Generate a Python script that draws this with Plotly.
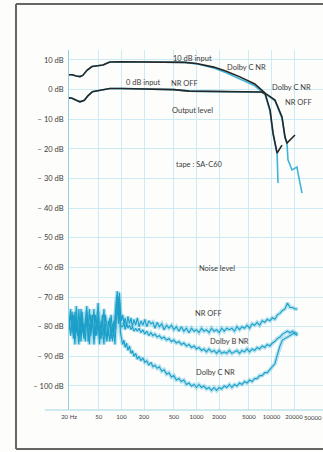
import math
import plotly.graph_objects as go

# ---- output level curves (Hz, dB) ----
out10_hz = [20, 22, 25, 28, 30.5, 35, 40.5, 52, 57, 63, 70, 100, 200, 400, 700, 1000,
            1700, 2500, 3800, 6000, 8200, 9600, 10500, 11900, 12150, 13850]
out10_off_db = [5.0, 5.0, 4.6, 4.4, 4.8, 6.6, 7.8, 8.3, 8.3, 8.8, 9.3, 9.4, 9.4, 9.3, 9.2, 8.8,
                7.6, 6.2, 4.3, 1.9, -1.1, -6.9, -14.6, -21.4, -21.0, -18.7]

out10_c_hz = [20, 22, 25, 28, 30.5, 35, 40.5, 52, 57, 63, 70, 100, 200, 400, 700, 1000,
              1700, 2500, 3800, 6000, 8200, 9600, 10500, 11900, 12240]
out10_c_db = [5.0, 5.0, 4.6, 4.4, 4.8, 6.6, 7.8, 8.3, 8.3, 8.8, 9.3, 9.4, 9.4, 9.3, 9.2, 8.7,
              7.3, 5.7, 3.7, 1.3, -1.6, -7.4, -15.0, -21.6, -31.5]

out0_hz = [20, 22, 25, 28, 32, 36, 41, 50, 57, 70, 100, 200, 500, 800, 2000, 4000,
           7400, 8700, 11160, 13840, 15170, 16140, 20600]
out0_off_db = [-2.8, -2.9, -3.6, -4.1, -3.6, -2.0, -0.7, -0.3, -0.1, 0.4, 0.4, 0.3, 0.0, -0.5, -0.7, -0.8,
               -0.8, -1.6, -3.5, -9.2, -16.0, -18.0, -15.3]

out0_c_hz = [20, 22, 25, 28, 32, 36, 41, 50, 57, 70, 100, 200, 500, 800, 2000, 4000,
             7400, 8700, 11160, 13840, 15170, 16140, 16630, 18800, 21930, 22590, 25580]
out0_c_db = [-2.8, -2.9, -3.6, -4.1, -3.6, -2.0, -0.7, -0.3, -0.1, 0.4, 0.4, 0.3, 0.0, -0.5, -0.7, -0.8,
             -0.9, -1.8, -3.8, -9.6, -16.3, -18.3, -23.7, -27.1, -26.1, -28.1, -34.9]

# ---- noise level curves ----
noise_hz = [
    20, 21, 22, 23, 24, 25, 26, 27, 28, 29,
    30, 31.5, 33, 34.5, 36, 37.5, 39, 41, 43, 45,
    47, 49, 51, 53.5, 56, 58.5, 61, 64, 67, 70,
    73, 76, 79, 82, 85, 88, 91, 94, 97, 100,
    104, 108, 112, 117, 122, 128, 134, 140, 147, 155,
    163, 172, 182, 193, 205, 218, 232, 247, 263, 280,
    300, 320, 345, 370, 400, 430, 465, 500, 540, 585,
    630, 680, 735, 795, 860, 930, 1000, 1080, 1170, 1260,
    1360, 1470, 1590, 1720, 1860, 2010, 2170, 2350, 2540, 2750,
    2970, 3210, 3470, 3750, 4050, 4380, 4730, 5110, 5520, 5970,
    6450, 6970, 7530, 8140, 8800, 9510, 10280, 11110, 12000, 12970,
    14020, 15150, 16370, 17690, 19120, 20660, 22300,
]
noise_off = [
    -79, -74, -82, -76, -84, -73, -80, -85, -77, -82,
    -75, -83, -78, -73, -81, -86, -76, -80, -74, -83,
    -77, -72, -81, -84, -79, -74, -82, -85, -78, -80,
    -76, -82, -78, -81, -72, -68, -73, -68.5, -75, -78,
    -76, -79, -77, -80, -76.5, -79, -77, -80, -77.5, -79.5,
    -77, -80, -78, -79.5, -77.5, -80, -78, -79, -78.5, -80.5,
    -78.5, -80, -79, -81, -79.5, -80.5, -79.5, -81, -80, -81.5,
    -80, -81.5, -80.5, -82, -80.5, -81.5, -81, -82, -80.5, -81.5,
    -81, -82, -80.5, -81.5, -81, -82, -80.5, -81.5, -80.5, -81,
    -80.5, -81.5, -80, -81, -80, -80.5, -79.5, -80.5, -79, -79.5,
    -78.5, -79.5, -78, -78.5, -77.5, -78, -77, -77.5, -76, -75.5,
    -74.5, -74, -72, -73.5, -73.5, -74, -74,
]
noise_dolby_b = [
    -81, -76, -79, -84, -75, -82, -78, -86, -80, -74,
    -82, -79, -85, -77, -80, -74, -83, -78, -84, -76,
    -81, -75, -84, -78, -82, -86, -76, -80, -83, -77,
    -84, -79, -83, -77, -74, -70, -76, -71, -79, -80,
    -80, -78.5, -81, -79, -80.5, -79.5, -81, -80, -81.5, -80.5,
    -81.5, -80.5, -82, -81, -82.5, -81.5, -83, -82, -83, -82.5,
    -83.5, -83, -84, -83.5, -84.5, -84, -85, -84.5, -85.5, -85,
    -86, -85.5, -86.5, -86, -87, -86.5, -87.5, -87, -88, -87.5,
    -88.5, -87.5, -88.5, -88, -89, -88, -89, -88.5, -89, -88,
    -89, -88.5, -88, -89, -88, -88.5, -87.5, -88.5, -87.5, -88,
    -87, -87.5, -86.5, -87, -86, -86.5, -85.5, -85, -84, -83.5,
    -82.5, -82, -81.5, -82, -81.5, -82.5, -83,
]
noise_dolby_c = [
    -78, -83, -75, -80, -86, -77, -83, -74, -81, -85,
    -77, -84, -80, -75, -85, -79, -82, -76, -86, -80,
    -83, -78, -86, -80, -76, -83, -79, -84, -81, -85,
    -80, -85, -81, -86, -78, -72, -79, -74, -82, -84,
    -86, -84.5, -87, -85.5, -88, -86.5, -89, -88, -90, -89,
    -91, -90, -91.5, -90.5, -92, -91.5, -93, -92, -93.5, -93,
    -94, -93.5, -95, -94.5, -96, -95.5, -97, -96.5, -98, -97.5,
    -98.5, -98, -99.5, -99, -100, -99.5, -100.5, -99.5, -100.5, -100,
    -101, -100.5, -101.5, -100.5, -101.5, -100.5, -101, -100, -100.5, -99.5,
    -100.5, -99.5, -100, -99, -99.5, -98.5, -99, -98, -98.5, -97.5,
    -97.5, -96.5, -96.5, -95.5, -95.5, -94.5, -93.5, -92.5, -89.5, -86.5,
    -84.5, -84, -83.5, -83, -82.5, -82, -82.5,
]

for s in (noise_off, noise_dolby_b, noise_dolby_c):
    assert len(s) == len(noise_hz)

freq_ticks = [20, 50, 100, 200, 500, 1000, 2000, 5000, 10000, 20000]
freq_labels = ["20 Hz", "50", "100", "200", "500", "1000", "2000", "5000", "10000", "20000"]
db_ticks = [10, 0, -10, -20, -30, -40, -50, -60, -70, -80, -90, -100]
db_labels = ["10 dB", "0 dB"] + ["\u2013 %d dB" % (-v) for v in db_ticks[2:]]

CYAN = "#1c9fc8"
HALO = "rgba(110,200,228,0.5)"
INK = "#262626"
TXT = "#3c3c3c"
FONT = "Lato, Open Sans, sans-serif"
FRAME = "#666666"

fig = go.Figure()

for ys in (noise_off, noise_dolby_b, noise_dolby_c):
    fig.add_trace(go.Scatter(x=noise_hz, y=ys, mode="lines",
                             line=dict(color=HALO, width=4), hoverinfo="skip"))
for ys in (noise_off, noise_dolby_b, noise_dolby_c):
    fig.add_trace(go.Scatter(x=noise_hz, y=ys, mode="lines",
                             line=dict(color=CYAN, width=1.1), hoverinfo="skip"))

fig.add_trace(go.Scatter(x=out10_c_hz, y=out10_c_db, mode="lines",
                         line=dict(color="#3fb6d6", width=1.6)))
fig.add_trace(go.Scatter(x=out0_c_hz, y=out0_c_db, mode="lines",
                         line=dict(color="#3fb6d6", width=1.6)))
fig.add_trace(go.Scatter(x=out10_hz, y=out10_off_db, mode="lines",
                         line=dict(color=INK, width=1.6)))
fig.add_trace(go.Scatter(x=out0_hz, y=out0_off_db, mode="lines",
                         line=dict(color=INK, width=1.6)))

notes = [
    ("10 dB input", 900, 10.4),
    ("Dolby C NR", 4700, 7.3),
    ("0 dB input", 194, 2.4),
    ("NR OFF", 704, 1.9),
    ("Dolby C NR", 18800, 0.6),
    ("NR OFF", 23300, -4.5),
    ("Output level", 900, -7.2),
    ("tape : SA-C60", 1080, -25.4),
    ("Noise level", 1880, -60.2),
    ("NR OFF", 1430, -75.4),
    ("Dolby B NR", 2800, -85.1),
    ("Dolby C NR", 1770, -95.3),
]
for text, fx, fy in notes:
    fig.add_annotation(x=math.log10(fx), y=fy, text=text, showarrow=False,
                       font=dict(size=7.5, color=TXT, family=FONT))

# last frequency label at the right page edge
fig.add_annotation(x=1.003, xref="paper", y=-0.005, yref="paper", yanchor="top",
                   text="50000", showarrow=False,
                   font=dict(size=6, color=TXT, family=FONT))

# scan frame (left, top, bottom; right side is cut off) and base line
for x0, y0, x1, y1 in [(-0.2087, -0.108, -0.2087, 1.128),
                       (-0.2087, 1.128, 1.2, 1.128),
                       (-0.2087, -0.108, 1.2, -0.108)]:
    fig.add_shape(type="line", xref="paper", yref="paper",
                  x0=x0, y0=y0, x1=x1, y1=y1,
                  line=dict(color=FRAME, width=2))
fig.add_shape(type="line", xref="paper", yref="paper",
              x0=-0.095, x1=1.0, y0=0, y1=0,
              line=dict(color="#9fd6e6", width=1))

fig.update_layout(
    width=323, height=452,
    margin=dict(l=69, r=0, t=50, b=42, autoexpand=False),
    paper_bgcolor="#fdfdfb",
    plot_bgcolor="#fdfdfb",
    showlegend=False,
    hovermode=False,
    font=dict(family=FONT, color=TXT),
)
fig.update_xaxes(type="log", range=[math.log10(20), math.log10(20) + 254 / 75],
                 tickvals=freq_ticks, ticktext=freq_labels,
                 tickfont=dict(size=6, color=TXT), ticklabelstandoff=2,
                 showgrid=True, gridcolor="#cdebf4", gridwidth=1, automargin=False,
                 zeroline=False, showline=False, ticks="")
fig.update_yaxes(range=[-108.1, 13.37], tickvals=db_ticks, ticktext=db_labels,
                 tickfont=dict(size=7.5, color=TXT), ticklabelstandoff=3,
                 showgrid=True, gridcolor="#cdebf4", gridwidth=1, automargin=False,
                 zeroline=False, showline=True, linecolor="#8fd0e3", linewidth=1,
                 ticks="")

fig.write_html("out.html", config={"displayModeBar": False},
               post_script="document.body.style.margin='0';document.body.style.overflow='hidden';")
